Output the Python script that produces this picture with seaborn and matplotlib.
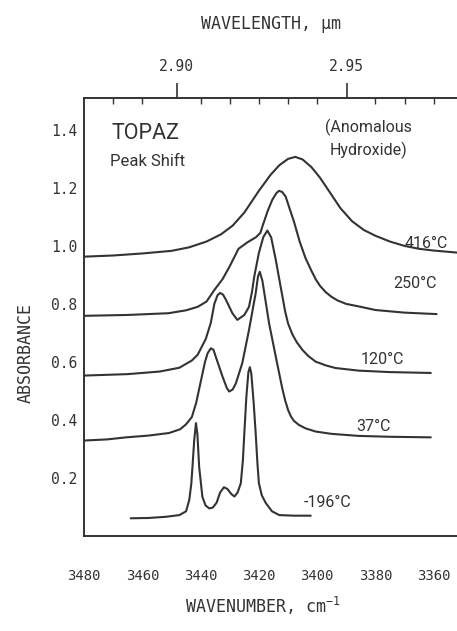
import matplotlib
matplotlib.use('Agg')
import numpy as np
import pandas as pd
import matplotlib.pyplot as plt
import seaborn as sns
from matplotlib.ticker import MultipleLocator, FixedLocator

# ----------------------------------------------------------------------
# DATOS LEÍDOS DEL ESPECTRO (número de onda cm-1, absorbancia)
# ----------------------------------------------------------------------
wn_416 = [3480, 3470, 3460, 3450, 3444, 3438, 3433, 3429, 3425, 3420, 3416, 3413, 3410,
          3407.5, 3405, 3402, 3399, 3396, 3392, 3388, 3384, 3380, 3375, 3370, 3365, 3360, 3352]
ab_416 = [0.963, 0.967, 0.974, 0.983, 0.995, 1.015, 1.04, 1.07, 1.115, 1.19, 1.245, 1.278, 1.30,
          1.307, 1.298, 1.272, 1.235, 1.19, 1.13, 1.085, 1.055, 1.035, 1.015, 1.0, 0.99, 0.984, 0.977]

wn_250 = [3480, 3465, 3451, 3445, 3441, 3438, 3435, 3432.5, 3430, 3427, 3424, 3421, 3419.5, 3418.8,
          3417, 3415.4, 3414, 3413.1, 3412, 3410.8, 3409.5, 3408, 3406, 3404, 3402, 3400.5, 3399,
          3397, 3395, 3393, 3390, 3386, 3380, 3370, 3359]
ab_250 = [0.759, 0.762, 0.768, 0.778, 0.79, 0.808, 0.852, 0.885, 0.93, 0.99, 1.012, 1.03, 1.045, 1.067,
          1.12, 1.159, 1.182, 1.19, 1.186, 1.17, 1.13, 1.085, 1.015, 0.958, 0.915, 0.885, 0.862,
          0.84, 0.824, 0.812, 0.80, 0.792, 0.779, 0.77, 0.765]

wn_120 = [3480, 3465, 3454, 3447.3, 3443, 3441, 3438.2, 3436.5, 3435.3, 3434.2, 3433.3, 3432.3,
          3431.3, 3429.1, 3427.4, 3425, 3423.4, 3422.4, 3421.6, 3420, 3418.5, 3417.1, 3415.8,
          3414.2, 3413, 3412, 3411, 3410, 3408.5, 3407, 3405, 3403, 3400.5, 3397, 3393.7,
          3385.7, 3375, 3361]
ab_120 = [0.553, 0.558, 0.567, 0.58, 0.605, 0.625, 0.68, 0.735, 0.80, 0.83, 0.838, 0.832,
          0.814, 0.768, 0.745, 0.762, 0.79, 0.84, 0.894, 0.976, 1.03, 1.053, 1.03,
          0.952, 0.885, 0.83, 0.775, 0.733, 0.695, 0.668, 0.641, 0.62, 0.601, 0.588, 0.579,
          0.57, 0.565, 0.562]

wn_37 = [3480, 3472, 3465.6, 3458, 3450.8, 3447, 3445, 3443, 3441.5, 3439.9, 3438.5, 3437.6,
         3436.5, 3435.6, 3434.8, 3432.5, 3431, 3430.2, 3429, 3427.9, 3425.7, 3423.4, 3421.1,
         3420.3, 3419.7, 3418.8, 3416.5, 3414.2, 3412, 3411, 3410, 3409, 3408, 3406.3, 3404,
         3400.5, 3395, 3385.7, 3375, 3361]
ab_37 = [0.329, 0.333, 0.34, 0.346, 0.355, 0.368, 0.385, 0.41, 0.46, 0.535, 0.60, 0.63,
         0.647, 0.642, 0.618, 0.55, 0.51, 0.498, 0.505, 0.526, 0.596, 0.71, 0.837,
         0.895, 0.911, 0.88, 0.733, 0.618, 0.51, 0.468, 0.435, 0.412, 0.397, 0.383, 0.371,
         0.36, 0.352, 0.345, 0.342, 0.34]

wn_m196 = [3464, 3458, 3452, 3447.3, 3445, 3443.9, 3443.2, 3442.8, 3442.2, 3441.6, 3441.1, 3440.5,
           3439.4, 3438.3, 3437, 3435.8, 3434.5, 3433.3, 3432, 3430.8, 3429.5, 3428.4, 3427.3,
           3426.2, 3425.5, 3425, 3424.3, 3423.6, 3423.1, 3422.6, 3421.8, 3421.1, 3420.5, 3420,
           3419, 3417.6, 3415.5, 3413, 3408, 3402.2]
ab_m196 = [0.061, 0.062, 0.066, 0.072, 0.085, 0.124, 0.18, 0.238, 0.33, 0.389, 0.35, 0.238,
           0.135, 0.105, 0.095, 0.098, 0.115, 0.15, 0.168, 0.162, 0.145, 0.136, 0.15,
           0.182, 0.26, 0.354, 0.48, 0.565, 0.582, 0.56, 0.46, 0.354, 0.25, 0.182,
           0.14, 0.113, 0.085, 0.072, 0.07, 0.07]

curvas = {'416°C': (wn_416, ab_416), '250°C': (wn_250, ab_250), '120°C': (wn_120, ab_120),
          '37°C': (wn_37, ab_37), '-196°C': (wn_m196, ab_m196)}

# etiquetas de temperatura (posición en datos)
etiquetas_temp = ['416°C', '250°C', '120°C', '37°C', '-196°C']
etiq_x = [3362.7, 3366.5, 3377.5, 3380.6, 3396.6]
etiq_y = [1.007, 0.872, 0.609, 0.379, 0.117]

ticks_um = [2.90, 2.95]
ticks_menores_cm = [3470, 3460, 3440, 3430, 3420, 3410, 3400, 3380, 3370, 3360]

df = pd.concat([pd.DataFrame({'wn': w, 'abs': a, 'temp': t})
                for t, (w, a) in curvas.items()], ignore_index=True)

# ----------------------------------------------------------------------
# ESTÉTICA
# ----------------------------------------------------------------------
sns.set_theme(style="white")
plt.rcParams['font.family'] = ['DejaVu Sans Mono']
plt.rcParams['mathtext.default'] = 'regular'
tinta = '#333333'
fuente_txt = ['Roboto', 'DejaVu Sans']

fig = plt.figure(figsize=(4.57, 6.31), dpi=100)
ax = fig.add_axes([0.184, 0.1506, 0.816, 0.6941])

sns.lineplot(data=df, x='wn', y='abs', hue='temp', units='temp', estimator=None, sort=False,
             palette={t: tinta for t in curvas}, legend=False, linewidth=1.5, ax=ax)

ax.set_xlim(3480, 3352)
ax.set_ylim(0, 1.51)

ax.xaxis.set_major_locator(FixedLocator([3480, 3460, 3440, 3420, 3400, 3380, 3360]))
ax.xaxis.set_minor_locator(MultipleLocator(10))
ax.yaxis.set_major_locator(FixedLocator([0.2, 0.4, 0.6, 0.8, 1.0, 1.2, 1.4]))
ax.yaxis.set_minor_locator(MultipleLocator(0.1))
ax.set_yticklabels(['0.2', '0.4', '0.6', '0.8', '1.0', '1.2', '1.4'])

for lado in ['top', 'right']:
    ax.spines[lado].set_visible(False)
for lado in ['left', 'bottom']:
    ax.spines[lado].set_color(tinta)
    ax.spines[lado].set_linewidth(1.4)

ax.tick_params(axis='x', which='major', direction='in', length=9, width=1.2, color=tinta,
               labelsize=10, labelcolor=tinta, pad=24)
ax.tick_params(axis='x', which='minor', direction='in', length=4, width=1.0, color=tinta)
ax.tick_params(axis='y', which='major', direction='inout', length=6, width=1.0, color=tinta,
               labelsize=10.5, labelcolor=tinta, pad=2)
ax.tick_params(axis='y', which='minor', direction='inout', length=4, width=1.0, color=tinta)

ax.set_xlabel('WAVENUMBER, cm$^{-1}$', fontsize=12, color=tinta)
ax.xaxis.set_label_coords(0.48, -0.135)
ax.set_ylabel('ABSORBANCE', fontsize=12, color=tinta)
ax.yaxis.set_label_coords(-0.133, 0.418)

# eje superior en longitud de onda (µm)
sec = ax.secondary_xaxis('top', functions=(lambda k: 1e4 / k, lambda l: 1e4 / l))
sec.xaxis.set_major_locator(FixedLocator(ticks_um))
sec.xaxis.set_minor_locator(FixedLocator([1e4 / k for k in ticks_menores_cm]))
sec.set_xticklabels(['2.90', '2.95'])
sec.spines['top'].set_color(tinta)
sec.spines['top'].set_linewidth(1.4)
sec.tick_params(axis='x', which='major', direction='out', length=11, width=1.2, color=tinta,
                labelsize=10.5, labelcolor=tinta, pad=6)
sec.tick_params(axis='x', which='minor', direction='in', length=4, width=1.0, color=tinta)
sec.set_xlabel('WAVELENGTH, µm', fontsize=12, color=tinta, labelpad=22)

# textos dentro del gráfico
ax.text(3470.6, 1.386, 'TOPAZ', family=fuente_txt, fontsize=15.5, color=tinta, ha='left', va='center')
ax.text(3471, 1.29, 'Peak Shift', family=fuente_txt, fontsize=12, color=tinta, ha='left', va='center')
ax.text(3382.3, 1.41, '(Anomalous', family=fuente_txt, fontsize=11.5, color=tinta, ha='center', va='center')
ax.text(3382.3, 1.33, 'Hydroxide)', family=fuente_txt, fontsize=11.5, color=tinta, ha='center', va='center')
for t, x, y in zip(etiquetas_temp, etiq_x, etiq_y):
    ax.text(x, y, t, family=fuente_txt, fontsize=11.5, color=tinta, ha='center', va='center')

fig.savefig('out.png', dpi=100, facecolor='white')
